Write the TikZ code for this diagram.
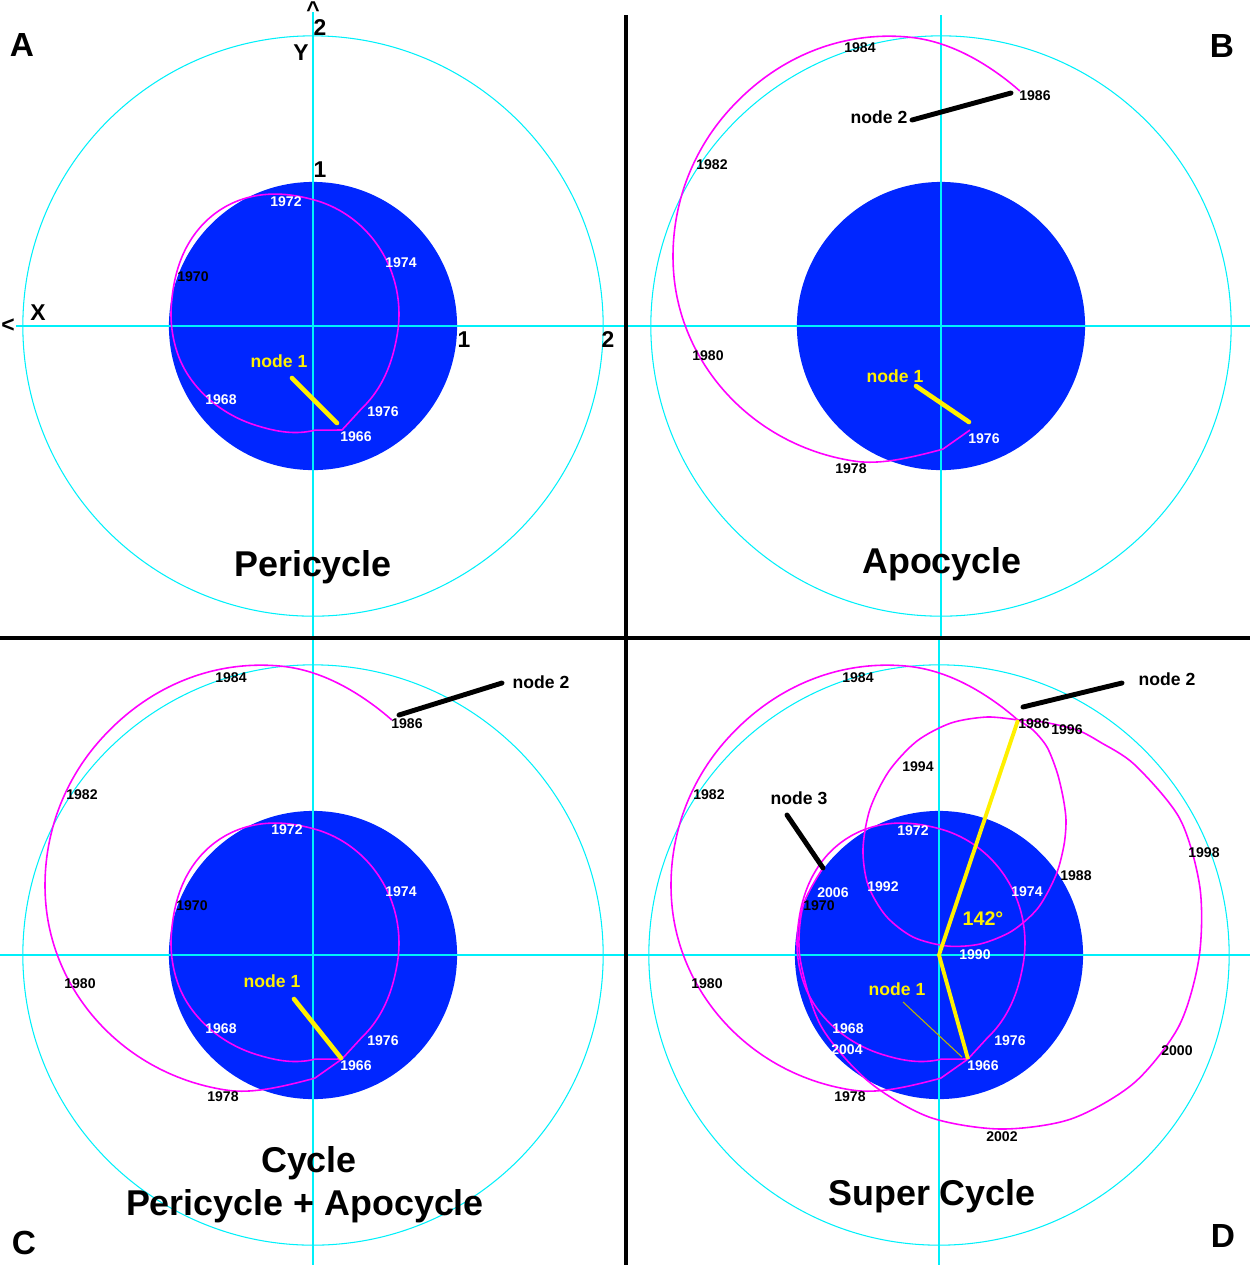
\documentclass[tikz,border=0pt]{standalone}
\usepackage{fontspec}
\setmainfont{Liberation Sans}
\definecolor{diskblue}{RGB}{0,38,255}
\definecolor{axiscyan}{RGB}{0,240,250}
\definecolor{orbitpink}{RGB}{255,0,255}
\definecolor{nodeyellow}{RGB}{255,240,0}
\definecolor{thinyellow}{RGB}{190,180,0}
\begin{document}
\begin{tikzpicture}[x=0.01cm,y=-0.01cm,
  declare function={bump(\u)=(max(0,1-(\u)*(\u)))^2;
    peri(\t)=1+0.02*bump((\t-75)/30)+0.05*bump((\t-420)/50)+0.05*bump((\t-235)/50)-0.025*bump((\t-115)/45);
    apo(\t)=218-11*bump((\t-75)/100)-7*bump((\t-75)/25)-10*bump((\t-320)/45)+2*bump((\t-262)/40);},
  ring/.style={color=axiscyan,line width=0.3pt},
  axisline/.style={color=axiscyan,line width=0.45pt},
  disk/.style={fill=diskblue},
  orbit/.style={color=orbitpink,line width=0.45pt},
  yr/.style={font=\fontsize{4}{4}\selectfont\bfseries,inner sep=0pt,text=black},
  yrw/.style={yr,text=white},
  axlabel/.style={font=\fontsize{6.5}{7}\selectfont\bfseries,inner sep=0pt},
  nodelab/.style={font=\fontsize{5}{6}\selectfont\bfseries,inner sep=0pt},
  bigtitle/.style={font=\fontsize{10.2}{12}\selectfont\bfseries,inner sep=0pt},
  corner/.style={font=\fontsize{9.5}{10}\selectfont\bfseries,inner sep=0pt},
  yellowline/.style={color=nodeyellow,line width=1.3pt,line cap=round},
  blackline/.style={color=black,line width=1.4pt,line cap=round},
  divider/.style={color=black,line width=1.3pt}]
\useasboundingbox (0,0) rectangle (1250,1265);

% Quadrant A: the pericycle
\draw[ring] (313,326) circle[radius=2.9cm];
\fill[disk] (313,326) circle[radius=1.44cm];
\draw[axisline] (16,326) -- (625,326);
\draw[axisline] (313,12) -- (313,637);
\begin{scope}[shift={(313,326)}]
\draw[orbit] (29,104) -- plot[domain=75:410,samples=120,smooth] ({-28+114*peri(\x)*cos(\x)},{-12+118*peri(\x)*sin(\x)}) -- (29,104);
\end{scope}
% Axis labels
\node[axlabel] (A-up) at (313,10) {\textasciicircum};
\node[axlabel] (A-y2) at (320,28) {2};
\node[axlabel] (A-Y) at (301,53) {Y};
\node[axlabel] (A-y1) at (320,170) {1};
\node[axlabel] (A-left) at (8,326) {<};
\node[axlabel] (A-X) at (38,313) {X};
\node[axlabel] (A-x1) at (464,340) {1};
\node[axlabel] (A-x2) at (608,340) {2};
% Years
\node[yrw] (A1972) at (286,202) {1972};
\node[yrw] (A1974) at (401,263) {1974};
\node[yr] (A1970) at (193,277) {1970};
\node[yrw] (A1968) at (221,400) {1968};
\node[yrw] (A1976) at (383,412) {1976};
\node[yrw] (A1966) at (356,437) {1966};
% Node 1
\node[nodelab,text=nodeyellow] (A-n1) at (279,361) {node 1};
\coordinate (A-n1a) at (292,378);
\coordinate (A-n1b) at (337,423);
\draw[yellowline] (A-n1a) -- (A-n1b);
\node[corner] (A) at (22,45) {A};
\node[bigtitle] (A-title) at (313,567) {Pericycle};

% Quadrant B: the apocycle
\draw[ring] (941,326) circle[radius=2.9cm];
\fill[disk] (941,326) circle[radius=1.44cm];
\draw[axisline] (628,326) -- (1250,326);
\draw[axisline] (941,15) -- (941,637);
\begin{scope}[shift={(941,326)}]
\draw[orbit] (29,104) -- plot[domain=75:308,samples=90,smooth] ({-50+apo(\x)*cos(\x)},{-70+apo(\x)*sin(\x)});
\end{scope}
% Years
\node[yr] (B1984) at (860,48) {1984};
\node[yr] (B1986) at (1035,96) {1986};
\node[yr] (B1982) at (712,165) {1982};
\node[yr] (B1980) at (708,356) {1980};
\node[yrw] (B1976) at (984,439) {1976};
\node[yr] (B1978) at (851,469) {1978};
% Node 1 and node 2
\node[nodelab,text=nodeyellow] (B-n1) at (895,376) {node 1};
\coordinate (B-n1a) at (916,386);
\coordinate (B-n1b) at (969,422);
\draw[yellowline] (B-n1a) -- (B-n1b);
\node[nodelab] (B-n2) at (879,117) {node 2};
\coordinate (B-n2a) at (912,120);
\coordinate (B-n2b) at (1011,93);
\draw[blackline] (B-n2a) -- (B-n2b);
\node[corner] (B) at (1222,46) {B};
\node[bigtitle] (B-title) at (942,564) {Apocycle};

% Quadrant C: pericycle + apocycle
\draw[ring] (313,955) circle[radius=2.9cm];
\fill[disk] (313,955) circle[radius=1.44cm];
\draw[axisline] (0,955) -- (624,955);
\draw[axisline] (313,640) -- (313,1265);
\begin{scope}[shift={(313,955)}]
\draw[orbit] (29,104) -- plot[domain=75:410,samples=120,smooth] ({-28+114*peri(\x)*cos(\x)},{-12+118*peri(\x)*sin(\x)}) -- (29,104);
\draw[orbit] (29,104) -- plot[domain=75:308,samples=90,smooth] ({-50+apo(\x)*cos(\x)},{-70+apo(\x)*sin(\x)});
\end{scope}
% Years
\node[yr] (C1984) at (231,678) {1984};
\node[yr] (C1986) at (407,724) {1986};
\node[yr] (C1982) at (82,795) {1982};
\node[yrw] (C1972) at (287,830) {1972};
\node[yrw] (C1974) at (401,892) {1974};
\node[yr] (C1970) at (192,906) {1970};
\node[yr] (C1980) at (80,984) {1980};
\node[yrw] (C1968) at (221,1029) {1968};
\node[yrw] (C1976) at (383,1041) {1976};
\node[yrw] (C1966) at (356,1066) {1966};
\node[yr] (C1978) at (223,1097) {1978};
% Node 1 and node 2
\node[nodelab,text=nodeyellow] (C-n1) at (272,981) {node 1};
\coordinate (C-n1a) at (294,999);
\coordinate (C-n1b) at (341,1058);
\draw[yellowline] (C-n1a) -- (C-n1b);
\node[nodelab] (C-n2) at (541,682) {node 2};
\coordinate (C-n2a) at (399,715);
\coordinate (C-n2b) at (502,683);
\draw[blackline] (C-n2a) -- (C-n2b);
\node[corner] (C) at (24,1243) {C};
\node[bigtitle] (C-title) at (309,1163) {Cycle};
\node[bigtitle] (C-title2) at (305,1206) {Pericycle + Apocycle};

% Quadrant D: the super cycle
\draw[ring] (939,955) circle[radius=2.9cm];
\fill[disk] (939,955) circle[radius=1.44cm];
\draw[axisline] (628,955) -- (1250,955);
\draw[axisline] (939,640) -- (939,1265);
\begin{scope}[shift={(939,955)}]
% pericycle and apocycle
\draw[orbit] (29,104) -- plot[domain=75:410,samples=120,smooth] ({-28+114*peri(\x)*cos(\x)},{-12+118*peri(\x)*sin(\x)}) -- (29,104);
\draw[orbit] (29,104) -- plot[domain=75:308,samples=90,smooth] ({-50+apo(\x)*cos(\x)},{-70+apo(\x)*sin(\x)});
% small loop
\draw[orbit] plot[smooth] coordinates {(79,-235) (94,-225) (108,-208) (118,-183) (124,-158) (127,-135) (125,-110) (117,-80) (99,-47) (73,-24) (41,-11) (8,-9) (-26,-18) (-53,-39) (-71,-70) (-76,-106) (-69,-146) (-50,-184) (-22,-214) (12,-232) (48,-238) (79,-235)};
% big loop
\draw[orbit] plot[smooth] coordinates {(79,-235) (104,-233) (138,-225) (161,-213) (196,-190) (241,-136) (261,-67) (260,3) (240,71) (195,128) (132,164) (61,174) (-10,162) (-71,126) (-118,71) (-139,3) (-136,-49) (-116,-87)};
\end{scope}
% Node vectors
\coordinate (D-c) at (939,955);
\coordinate (D-1986) at (1018,720);
\coordinate (D-1966) at (968,1059);
\draw[yellowline,line width=1.1pt,line cap=butt] (D-1986) -- (D-c) -- (D-1966);
% Years
\node[yr] (D1984) at (858,678) {1984};
\node[yr] (D1986) at (1034,724) {1986};
\node[yr] (D1996) at (1067,730) {1996};
\node[yr] (D1994) at (918,767) {1994};
\node[yr] (D1982) at (709,795) {1982};
\node[yrw] (D1972) at (913,831) {1972};
\node[yr] (D1998) at (1204,853) {1998};
\node[yr] (D1988) at (1076,876) {1988};
\node[yrw] (D1992) at (883,887) {1992};
\node[yrw] (D1974) at (1027,892) {1974};
\node[yrw] (D2006) at (833,893) {2006};
\node[yr] (D1970) at (819,906) {1970};
\node[yrw] (D1990) at (975,955) {1990};
\node[yr] (D1980) at (707,984) {1980};
\node[yrw] (D1968) at (848,1029) {1968};
\node[yrw] (D1976) at (1010,1041) {1976};
\node[yr] (D2000) at (1177,1051) {2000};
\node[yrw] (D2004) at (847,1050) {2004};
\node[yrw] (D1966) at (983,1066) {1966};
\node[yr] (D1978) at (850,1097) {1978};
\node[yr] (D2002) at (1002,1137) {2002};
% Angle and node labels
\node[font=\fontsize{5.6}{6}\selectfont\bfseries,inner sep=0pt,text=nodeyellow] (D-angle) at (983,919) {142°};
\node[nodelab,text=nodeyellow] (D-n1) at (897,989) {node 1};
\coordinate (D-n1a) at (903,1002);
\coordinate (D-n1b) at (962,1057);
\draw[color=thinyellow,line width=0.3pt] (D-n1a) -- (D-n1b);
\node[nodelab] (D-n2) at (1167,679) {node 2};
\coordinate (D-n2a) at (1023,707);
\coordinate (D-n2b) at (1122,683);
\draw[blackline] (D-n2a) -- (D-n2b);
\node[nodelab] (D-n3) at (799,798) {node 3};
\coordinate (D-n3a) at (787,815);
\coordinate (D-n3b) at (823,868);
\draw[blackline] (D-n3a) -- (D-n3b);
\node[corner] (D) at (1223,1236) {D};
\node[bigtitle] (D-title) at (932,1196) {Super Cycle};

% Draw the dividing lines
\draw[divider] (626,15) -- (626,1265);
\draw[divider] (0,638) -- (1250,638);
\end{tikzpicture}
\end{document}
